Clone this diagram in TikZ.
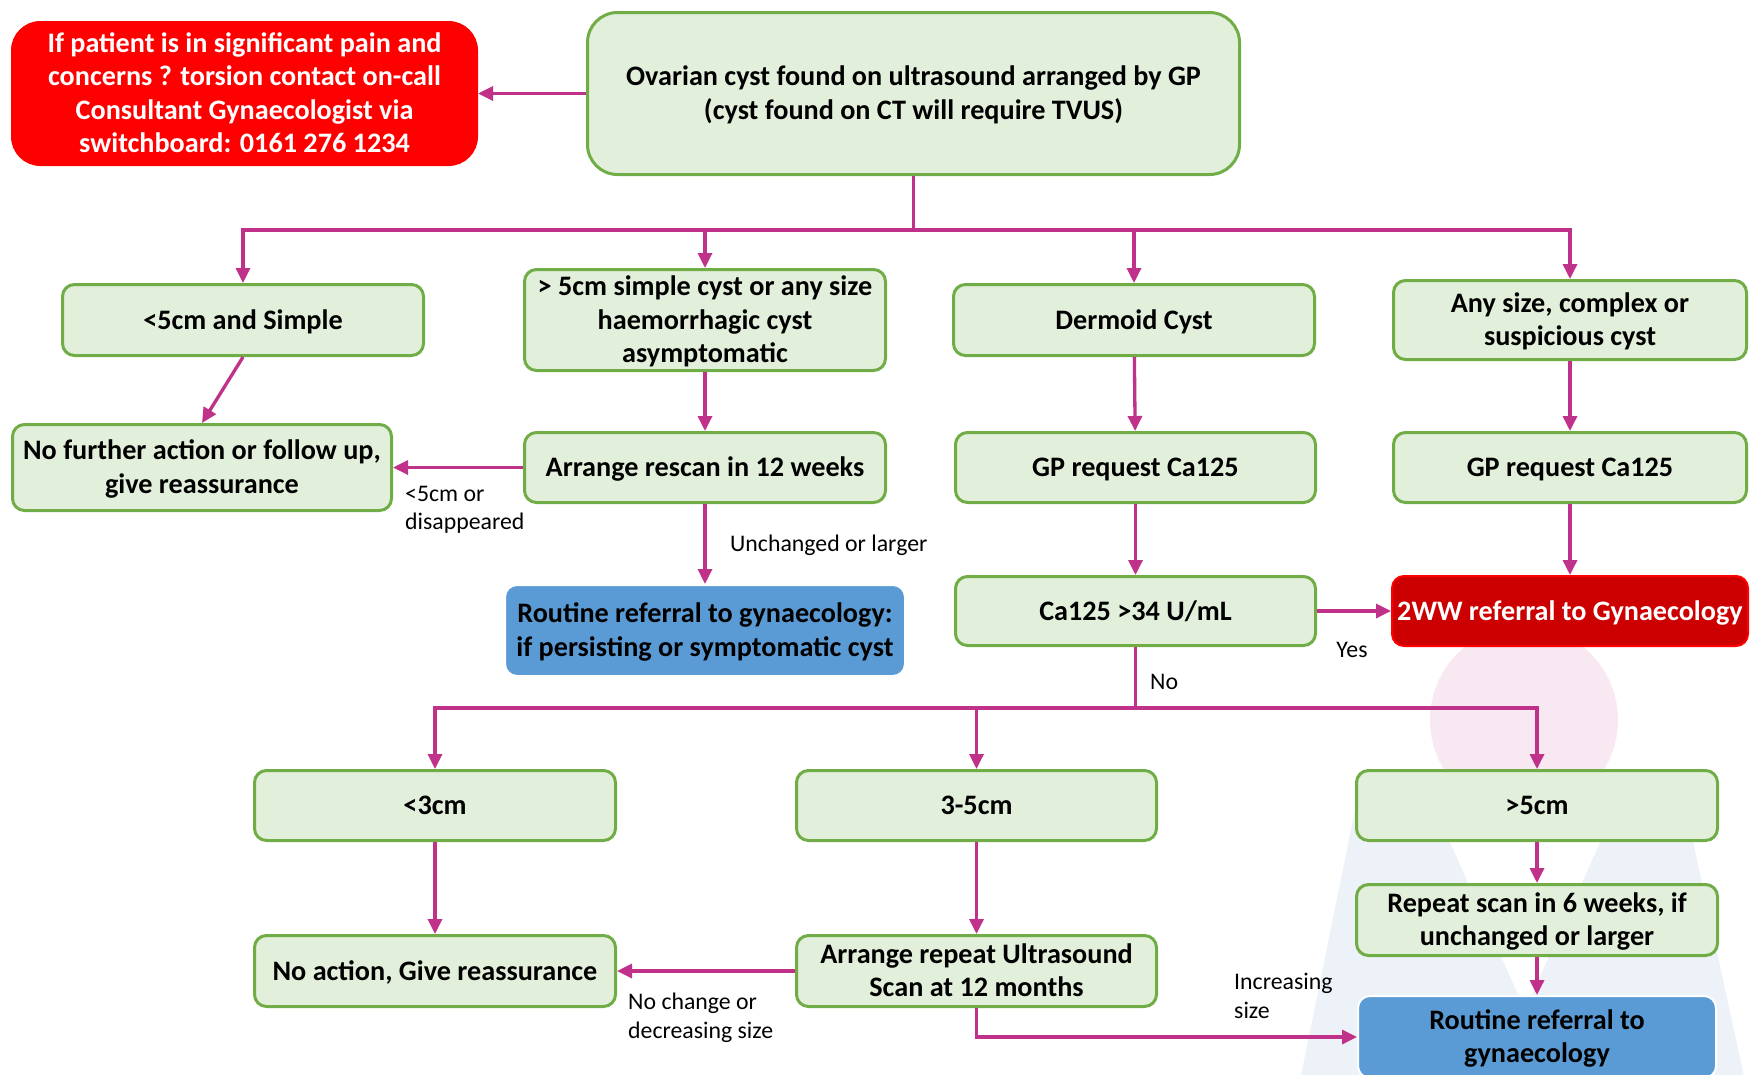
\documentclass[tikz,border=0pt]{standalone}
\usepackage{fontspec}
\setmainfont{Carlito}
\usetikzlibrary{arrows.meta}
\definecolor{gfill}{HTML}{E2EFDA}
\definecolor{gline}{HTML}{70AD47}
\definecolor{bfill}{HTML}{5B9BD5}
\definecolor{cline}{HTML}{C0318A}
\definecolor{rfill}{HTML}{FF0000}
\definecolor{dfill}{HTML}{CC0000}
\definecolor{wmpink}{HTML}{F7E8F1}
\definecolor{wmblue}{HTML}{EDF1F8}
\newcommand\tp{\rule{0pt}{26pt}}
\newcommand\bt{\rule[-8pt]{0pt}{8pt}}
\begin{document}
\begin{tikzpicture}[x=1pt,y=-1pt,
  box/.style={rectangle, rounded corners=12pt, align=center, inner sep=0pt,
    font=\bfseries\fontsize{28.2}{33.5}\selectfont, line width=3pt},
  gbox/.style={box, fill=gfill, draw=gline},
  bbox/.style={box, fill=bfill, draw=white, line width=2pt},
  rbox/.style={box, fill=rfill, draw=rfill, text=white, rounded corners=28pt},
  dbox/.style={box, fill=dfill, draw=rfill, line width=2pt, text=white},
  lbl/.style={align=left, inner sep=0pt, font=\fontsize{23.8}{28.5}\selectfont},
  conn/.style={draw=cline, line width=3.3pt},
  arr/.style={conn, -{Triangle[length=15pt,width=14pt]}}
]
\useasboundingbox (0,0) rectangle (1750,1074);
% watermark
\fill[wmblue, even odd rule] (1357,800) -- (1684,800) -- (1747,1090) -- (1298,1090) -- cycle
  (1431,800) -- (1619,800) -- (1525,1010) -- cycle;
\fill[wmpink] (1524,720) circle[radius=94];

% nodes
\node[rbox, minimum width=464pt, minimum height=142pt] (red) at (244.5,93.5)
  {\tp If patient is in significant pain and\\concerns ? torsion contact on-call\\Consultant Gynaecologist via\\switchboard: 0161 276 1234\bt};
\node[gbox, rounded corners=30pt, minimum width=652pt, minimum height=162pt] (top) at (913.5,93.5)
  {\tp Ovarian cyst found on ultrasound arranged by GP\\(cyst found on CT will require TVUS)\bt};

\node[gbox, minimum width=361pt, minimum height=71pt] (a1) at (243,320) {\tp <5cm and Simple\bt};
\node[gbox, minimum width=361pt, minimum height=99pt] (a2) at (705,320) {\tp > 5cm simple cyst or any size\\haemorrhagic cyst\\asymptomatic\bt};
\node[gbox, minimum width=361pt, minimum height=71pt] (a3) at (1134,320) {\tp Dermoid Cyst\bt};
\node[gbox, minimum width=353pt, minimum height=79pt] (a4) at (1570,320) {\tp Any size, complex or\\suspicious cyst\bt};

\node[gbox, minimum width=379pt, minimum height=86pt] (b1) at (202,467.5) {\tp No further action or follow up,\\give reassurance\bt};
\node[gbox, minimum width=361pt, minimum height=70pt] (b2) at (705,467.5) {\tp Arrange rescan in 12 weeks\bt};
\node[gbox, minimum width=360pt, minimum height=70pt] (b3) at (1135.5,467.5) {\tp GP request Ca125\bt};
\node[gbox, minimum width=353pt, minimum height=70pt] (b4) at (1570,467.5) {\tp GP request Ca125\bt};

\node[bbox, minimum width=400pt, minimum height=91pt] (c1) at (705,630.5) {\tp Routine referral to gynaecology:\\if persisting or symptomatic cyst\bt};
\node[gbox, minimum width=360pt, minimum height=69pt] (c3) at (1135.5,611) {\tp Ca125 >34 U/mL\bt};
\node[dbox, minimum width=356pt, minimum height=70pt] (c4) at (1570,611) {\tp 2WW referral to Gynaecology\bt};

\node[gbox, minimum width=361pt, minimum height=70pt] (d1) at (435,805.5) {\tp <3cm\bt};
\node[gbox, minimum width=360pt, minimum height=70pt] (d2) at (976.5,805.5) {\tp 3-5cm\bt};
\node[gbox, minimum width=361pt, minimum height=70pt] (d3) at (1537,805.5) {\tp >5cm\bt};

\node[gbox, minimum width=361pt, minimum height=71pt] (e1) at (435,971) {\tp No action, Give reassurance\bt};
\node[gbox, minimum width=360pt, minimum height=71pt] (e2) at (976.5,971) {\tp Arrange repeat Ultrasound\\Scan at 12 months\bt};
\node[gbox, minimum width=361pt, minimum height=71pt] (e3) at (1537,920) {\tp Repeat scan in 6 weeks, if\\unchanged or larger\bt};
\node[bbox, minimum width=358pt, minimum height=82pt] (f3) at (1537,1037) {\tp Routine referral to\\gynaecology\bt};

% labels
\node[lbl, anchor=north west] (l1) at (405,486) {<5cm or\\disappeared};
\node[lbl, anchor=west] (l2) at (730,545) {Unchanged or larger};
\node[lbl, anchor=center] (l3) at (1352,650) {Yes};
\node[lbl, anchor=west] (l4) at (1150,682) {No};
\node[lbl, anchor=north west] (l5) at (628,993) {No change or\\decreasing size};
\node[lbl, anchor=north west] (l6) at (1234,973) {Increasing\\size};

% connectors
\draw[arr] (top.west) -- (red.east);
\coordinate (j1) at (top.south |- 0,230);
\draw[conn] (top.south) -- (j1);
\draw[conn] (a1.north |- j1) -- (a4.north |- j1);
\draw[arr] (j1) -| (a1.north);
\draw[arr] (j1) -| (a2.north);
\draw[arr] (j1) -| (a3.north);
\draw[arr] (j1) -| (a4.north);

\draw[arr] (a1.south) -- (b1.north);
\draw[arr] (a2) -- (b2);
\draw[arr] (b2.west) -- (b1.east |- b2.west);
\draw[arr] (b2) -- (c1);
\draw[arr] (a3) -- (b3);
\draw[arr] (b3) -- (c3);
\draw[arr] (a4) -- (b4);
\draw[arr] (b4) -- (c4);
\draw[arr] (c3) -- (c4);

\coordinate (j2) at (c3.south |- 0,708);
\draw[conn] (c3.south) -- (j2);
\draw[conn] (d1.north |- j2) -- (d3.north |- j2);
\draw[arr] (j2) -| (d1.north);
\draw[arr] (j2) -| (d2.north);
\draw[arr] (j2) -| (d3.north);

\draw[arr] (d1) -- (e1);
\draw[arr] (d2) -- (e2);
\draw[arr] (d3) -- (e3);
\draw[arr] (e3) -- (f3);
\draw[arr] (e2) -- (e1);
\draw[arr] (e2.south) |- (f3.west);
\end{tikzpicture}
\end{document}
